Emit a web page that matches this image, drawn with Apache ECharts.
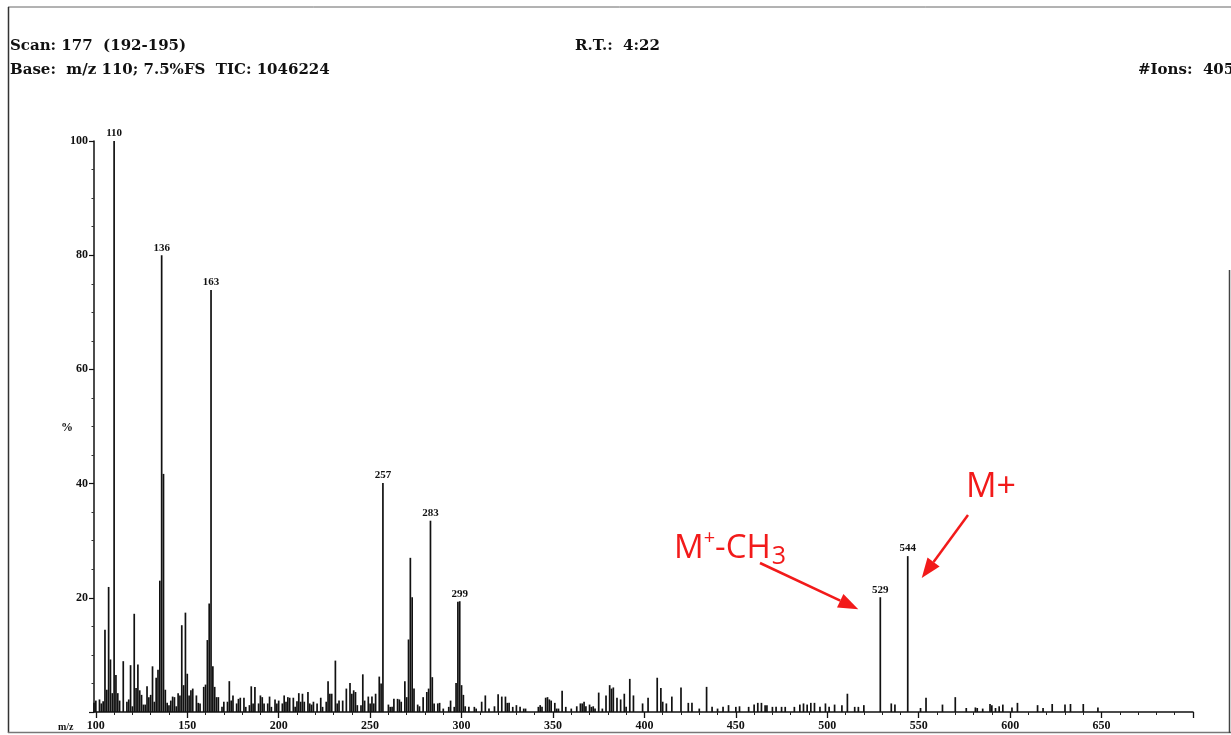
<!DOCTYPE html>
<html>
<head>
<meta charset="utf-8">
<script src="https://cdn.jsdelivr.net/npm/echarts@6/dist/echarts.min.js"></script>
<style>
html,body{margin:0;padding:0;background:#fff;}
#chart{width:1231px;height:735px;}
</style>
</head>
<body>
<div id="chart"></div>
<script>
// ---- data ----
const mzValues = [
99,100,102,103,104,105,106,107,108,109,110,111,112,113,115,117,118,119,120,121,122,123,124,125,126,127,128,129,130,131,132,133,134,135,136,137,138,139,140,141,142,143,144,145,146,147,148,149,150,151,152,153,155,156,157,159,160,161,162,163,164,165,166,167,169,170,172,173,174,175,177,178,179,181,182,184,185,186,187,189,190,191,192,194,195,196,198,199,200,202,203,204,205,206,208,209,210,211,212,213,214,216,217,218,219,221,223,224,226,227,228,229,231,232,233,235,237,239,240,241,242,243,245,246,247,249,250,251,252,253,255,256,257,260,261,262,263,265,266,267,269,270,271,272,273,274,276,277,279,281,282,283,284,285,287,288,290,293,294,296,297,298,299,300,301,302,304,307,308,311,313,315,318,320,322,324,325,326,328,330,332,334,335,342,343,344,346,347,348,349,351,352,353,355,357,360,363,365,366,367,368,370,371,372,373,375,377,379,381,382,383,385,387,389,390,392,394,399,402,407,409,410,412,415,420,424,426,430,434,437,440,443,446,450,452,457,460,462,464,466,467,470,472,475,477,482,485,487,489,491,493,496,499,501,504,508,511,515,517,520,529,535,537,544,551,554,563,570,576,581,582,585,589,590,592,594,596,601,604,615,618,623,630,633,640,648
];
const intensities = [
1.6,2.0,2.2,1.5,1.9,14.4,3.9,21.9,9.2,3.3,100,6.5,3.3,2.0,8.9,1.8,2.2,8.2,1.0,17.2,4.2,8.3,3.8,3.0,1.3,1.3,4.5,2.6,3.0,8.0,1.8,6.0,7.4,23.0,80,41.7,3.9,1.6,1.2,2.0,2.7,2.6,1.0,3.3,2.9,15.2,4.7,17.4,6.7,2.9,3.8,4.1,2.9,1.6,1.5,4.4,4.8,12.6,19.0,73.9,8.0,4.4,2.6,2.6,0.9,1.8,1.8,5.4,2.0,2.9,1.5,2.3,2.5,2.5,0.9,1.2,4.5,1.5,4.4,1.5,2.9,2.6,1.5,1.5,2.7,0.9,2.2,1.5,2.0,1.5,2.9,1.8,2.6,2.5,2.5,0.9,1.9,3.3,1.8,3.2,1.8,3.5,1.5,1.3,1.8,1.5,2.5,0.9,1.8,5.4,3.2,3.2,9.0,1.5,2.0,2.0,4.1,5.1,3.2,3.8,3.5,1.2,1.2,6.6,2.0,2.7,1.5,2.7,1.5,3.2,6.2,5.0,40.1,1.3,0.9,0.9,2.3,2.3,2.2,1.8,5.4,2.6,12.7,27.0,20.1,4.1,1.3,1.0,2.6,3.5,4.1,33.5,6.1,1.5,1.5,1.6,0.6,0.9,2.0,0.9,5.1,19.3,19.4,4.7,3.0,1.0,0.9,0.9,0.6,1.8,2.9,0.6,1.0,3.1,2.7,2.7,1.6,1.6,0.9,1.2,0.9,0.6,0.6,0.9,1.2,0.9,2.5,2.6,2.2,2.0,1.6,0.6,0.6,3.7,0.9,0.6,1.0,1.5,1.5,1.8,1.0,1.3,0.9,1.0,0.6,3.4,0.6,2.9,4.7,4.1,4.3,2.5,2.2,3.2,0.9,5.8,2.9,1.5,2.5,6.0,4.2,1.8,1.5,2.7,4.3,1.6,1.6,0.6,4.4,0.9,0.6,0.9,1.2,0.9,1.0,0.9,1.3,1.6,1.6,1.2,1.2,0.9,0.9,0.9,0.9,0.9,1.3,1.5,1.3,1.6,1.6,0.9,1.5,0.9,1.3,1.2,3.2,0.9,0.9,1.2,20.1,1.5,1.3,27.3,0.7,2.5,1.3,2.6,0.7,0.8,0.7,0.6,1.4,1.2,0.7,1.0,1.3,0.8,1.6,1.2,0.7,1.4,1.3,1.4,1.4,0.8
];
const labeledPeaks = [110,136,163,257,283,299,529,544];
const xLabelValues = [100,150,200,250,300,350,400,450,500,550,600,650];
const xMajorTicks = [100,150,200,250,300,350,400,450,500,550,600,650,700];
const xMinorTicks = [110,120,130,140,160,170,180,190,210,220,230,240,260,270,280,290,310,320,330,340,360,370,380,390,410,420,430,440,460,470,480,490,510,520,530,540,560,570,580,590,610,620,630,640,660,670,680,690];
const headerLeft1 = 'Scan: 177  (192-195)';
const headerLeft2 = 'Base:  m/z 110; 7.5%FS  TIC: 1046224';
const headerMid = 'R.T.:  4:22';
const headerRight = '#Ions:  405';

// ---- chart ----
const SERIF = '"Liberation Serif","DejaVu Serif",serif';
const HEAD_SERIF = '"DejaVu Serif","Liberation Serif",serif';
const chart = echarts.init(document.getElementById('chart'), null, {renderer:'canvas'});

const barData = mzValues.map((m, i) => {
  const item = {value: [m, intensities[i]]};
  if (labeledPeaks.indexOf(m) >= 0) {
    item.label = {show: true, position: 'top', distance: 2, formatter: String(m),
      fontFamily: SERIF, fontWeight: 'bold', fontSize: 11, color: '#111'};
  }
  return item;
});

const option = {
  backgroundColor: '#fff',
  animation: false,
  grid: {left: 94, right: 38, top: 141, bottom: 23, containLabel: false},
  xAxis: [{
    type: 'value', min: 99, max: 700,
    axisLine: {show: true, onZero: false, lineStyle: {color: '#111', width: 1.5}},
    axisTick: {show: true, inside: false, length: 6, customValues: xMajorTicks, lineStyle: {color: '#111', width: 1.3}},
    axisLabel: {show: true, customValues: xLabelValues, margin: 8, fontFamily: SERIF, fontWeight: 'bold', fontSize: 12, color: '#111'},
    splitLine: {show: false}
  }, {
    type: 'value', min: 99, max: 700, position: 'bottom',
    axisLine: {show: false},
    axisTick: {show: true, inside: false, length: 3, customValues: xMinorTicks, lineStyle: {color: '#222', width: 1}},
    axisLabel: {show: false},
    splitLine: {show: false}
  }],
  yAxis: {
    type: 'value', min: 0, max: 100, interval: 20,
    axisLine: {show: true, lineStyle: {color: '#111', width: 1.5}},
    axisTick: {show: true, inside: false, length: 5, lineStyle: {color: '#111', width: 1.2}},
    minorTick: {show: true, splitNumber: 4, length: 2.5, lineStyle: {color: '#333', width: 1}},
    axisLabel: {show: true, margin: 6, fontFamily: SERIF, fontWeight: 'bold', fontSize: 12, color: '#111',
      formatter: v => v === 0 ? '' : String(v)},
    splitLine: {show: false}
  },
  series: [{
    type: 'bar',
    xAxisIndex: 0, yAxisIndex: 0,
    barWidth: 1.7,
    barGap: '-100%',
    itemStyle: {color: '#111'},
    data: barData,
    silent: true
  }]
};
chart.setOption(option);

// ---- annotations (header text, frame, red arrows) ----
function arrow(x1, y1, x2, y2, headLen, headW, color, width) {
  const ang = Math.atan2(y2 - y1, x2 - x1);
  const bx = x2 - headLen * Math.cos(ang), by = y2 - headLen * Math.sin(ang);
  const px = -Math.sin(ang) * headW / 2, py = Math.cos(ang) * headW / 2;
  return [
    {type: 'line', shape: {x1: x1, y1: y1, x2: bx, y2: by}, style: {stroke: color, lineWidth: width}, z: 100},
    {type: 'polygon', shape: {points: [[x2, y2], [bx + px, by + py], [bx - px, by - py]]}, style: {fill: color}, z: 100}
  ];
}
const p529 = chart.convertToPixel({xAxisIndex: 0, yAxisIndex: 0}, [529, 20.1]);
const p544 = chart.convertToPixel({xAxisIndex: 0, yAxisIndex: 0}, [544, 27.3]);
const RED = '#f21a1a';
const SANS = '"Open Sans","DejaVu Sans",sans-serif';
const headerStyle = {fontFamily: HEAD_SERIF, fontWeight: 'bold', fontSize: 15, fill: '#111'};
const graphics = [
  // frame
  {type: 'line', shape: {x1: 8, y1: 7, x2: 1231, y2: 7}, style: {stroke: '#666', lineWidth: 1}},
  {type: 'line', shape: {x1: 8.5, y1: 7, x2: 8.5, y2: 733}, style: {stroke: '#333', lineWidth: 1.5}},
  {type: 'line', shape: {x1: 8, y1: 732.5, x2: 1231, y2: 732.5}, style: {stroke: '#777', lineWidth: 1.5}},
  {type: 'line', shape: {x1: 1229.5, y1: 270, x2: 1229.5, y2: 733}, style: {stroke: '#444', lineWidth: 1.5}},
  // header
  {type: 'text', x: 10, y: 46, style: Object.assign({text: headerLeft1, textVerticalAlign: 'middle'}, headerStyle)},
  {type: 'text', x: 10, y: 70, style: Object.assign({text: headerLeft2, textVerticalAlign: 'middle'}, headerStyle)},
  {type: 'text', x: 575, y: 46, style: Object.assign({text: headerMid, textVerticalAlign: 'middle'}, headerStyle)},
  {type: 'text', x: 1138, y: 70, style: Object.assign({text: headerRight, textVerticalAlign: 'middle'}, headerStyle)},
  // axis names
  {type: 'text', x: 61, y: 428, style: {text: '%', fontFamily: SERIF, fontWeight: 'bold', fontSize: 12, fill: '#111', textVerticalAlign: 'middle'}},
  {type: 'text', x: 58, y: 727, style: {text: 'm/z', fontFamily: SERIF, fontWeight: 'bold', fontSize: 10, fill: '#111', textVerticalAlign: 'middle'}},
  // red labels
  {type: 'text', x: 966, y: 487, z: 100, style: {text: 'M+', fontFamily: SANS, fontSize: 34, fill: RED, textVerticalAlign: 'middle'}},
  {type: 'text', x: 674, y: 549, z: 100, style: {
    text: '{a|M}{sup|+}{a|-CH}{sub|3}',
    textVerticalAlign: 'middle',
    rich: {
      a: {fontFamily: SANS, fontSize: 33, fill: RED, color: RED},
      sup: {fontFamily: SANS, fontSize: 20, fill: RED, color: RED, verticalAlign: 'top', padding: [0, 0, 14, 0]},
      sub: {fontFamily: SANS, fontSize: 25, fill: RED, color: RED, verticalAlign: 'bottom', padding: [16, 0, 0, 1]}
    }
  }}
];
graphics.push.apply(graphics, arrow(760, 563, p529[0] - 22, p529[1] + 12, 20, 15, RED, 2.5));
graphics.push.apply(graphics, arrow(968, 515, p544[0] + 14, p544[1] + 22, 20, 15, RED, 2.5));
chart.setOption({graphic: graphics});
</script>
</body>
</html>
